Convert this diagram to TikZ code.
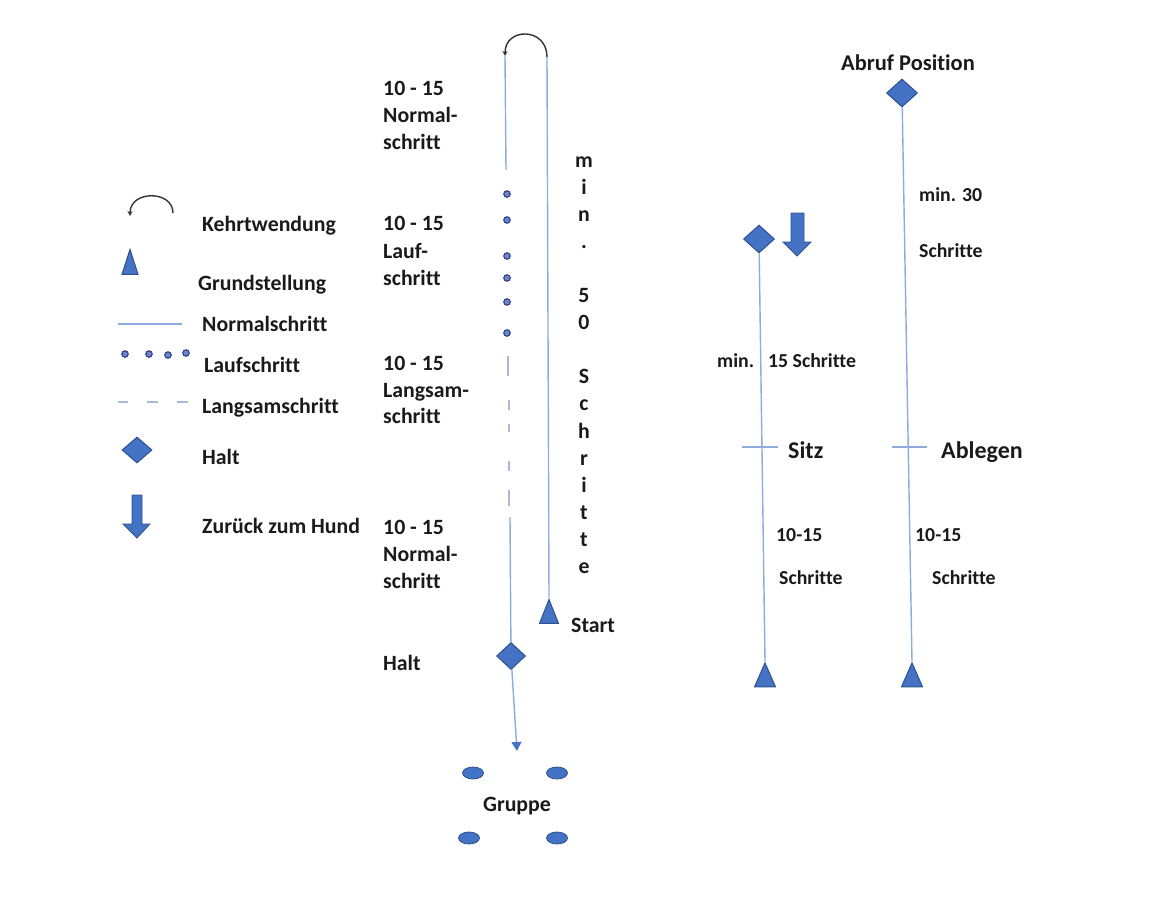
\documentclass[tikz,border=0pt]{standalone}
\usepackage{fontspec}
\setmainfont{Carlito}[Ligatures=NoCommon,Contextuals=NoAlternate]
\usetikzlibrary{shapes.geometric,arrows.meta}
\definecolor{fillblue}{HTML}{4472C4}
\definecolor{edgeblue}{HTML}{2F528F}
\definecolor{lineblue}{HTML}{8FAADC}
\definecolor{dashblue}{HTML}{A9B9D6}
\definecolor{dotedge}{HTML}{2F3E8F}
\definecolor{dotfill}{HTML}{6A86C8}
\definecolor{txt}{HTML}{1A1A1A}
\begin{document}
\begin{tikzpicture}[x=1pt,y=-1pt,
  lbl/.style={anchor=base west,inner sep=0,font=\fontsize{21.8}{22}\selectfont\bfseries,text=txt},
  lblsmall/.style={lbl,font=\fontsize{19.8}{20}\selectfont\bfseries},
  lblbig/.style={lbl,font=\fontsize{24}{24}\selectfont\bfseries},
  vlet/.style={anchor=base,inner sep=0,font=\fontsize{21.8}{22}\selectfont\bfseries,text=txt},
  haltbox/.style={diamond,fill=fillblue,draw=edgeblue,line width=1pt,inner sep=0,minimum width=31,minimum height=28},
  gstbox/.style={isosceles triangle,isosceles triangle stretches=true,shape border rotate=90,fill=fillblue,draw=edgeblue,line width=1pt,inner sep=0,minimum width=19,minimum height=24},
  walk/.style={draw=lineblue,line width=1.4pt},
  slow/.style={draw=dashblue,line width=1.4pt},
  rundot/.style={circle,draw=dotedge,fill=dotfill,line width=1.1pt,inner sep=0,minimum size=6.5},
  grp/.style={ellipse,fill=fillblue,draw=edgeblue,line width=0.8pt,inner sep=0,minimum width=21,minimum height=12},
  turn/.style={draw=black!80,line width=1.4pt,-{Stealth[length=5,width=5]}},
  back/.style={fill=fillblue,draw=edgeblue,line width=0.8pt}
]
\useasboundingbox (0,0) rectangle (1170,900);

% ---------------- Legend ----------------
\coordinate (lkA) at (173,213);
\coordinate (lkB) at (130,216);
\draw[turn] (lkA) .. controls (173,190) and (130,190) .. (lkB);
\node[lbl] (lKehr) at (202,231) {Kehrtwendung};

\node[gstbox,minimum width=16,minimum height=25] (lG) at (130,268.5) {};
\node[lbl] (lGrund) at (198,290) {Grundstellung};

\coordinate (lnA) at (118,324);
\coordinate (lnB) at (182,324);
\draw[walk,line width=1.1pt] (lnA) -- (lnB);
\node[lbl] (lNorm) at (202,331) {Normalschritt};

\node[rundot] (ld1) at (125,354) {};
\node[rundot] (ld2) at (149,354) {};
\node[rundot] (ld3) at (168,355) {};
\node[rundot] (ld4) at (186,353) {};
\node[lbl] (lLauf) at (204,372) {Laufschritt};

\coordinate (ls1a) at (118,402); \coordinate (ls1b) at (128,402);
\coordinate (ls2a) at (147,402); \coordinate (ls2b) at (158,402);
\coordinate (ls3a) at (177,402); \coordinate (ls3b) at (188,402);
\draw[slow,line width=1.1pt] (ls1a) -- (ls1b) (ls2a) -- (ls2b) (ls3a) -- (ls3b);
\node[lbl] (lLang) at (202,413) {Langsamschritt};

\node[haltbox,minimum width=30,minimum height=26] (lH) at (137,450) {};
\node[lbl] (lHalt) at (202,464) {Halt};

\draw[back] (132,495) -- (142,495) -- (142,524) -- (150,524) -- (137,538) -- (123,524) -- (132,524) -- cycle;
\node[lbl] (lZur) at (202,533) {Zurück zum Hund};

% ---------------- Middle course ----------------
\coordinate (arcL) at (505,56);
\coordinate (arcR) at (547,57);
\draw[turn] (arcR) .. controls (547,27) and (505,27) .. (arcL);
\coordinate (n1end) at (506,170);
\draw[walk] (arcL) -- (n1end);

\node[rundot] (d1) at (507,194) {};
\node[rundot] (d2) at (507,220) {};
\node[rundot] (d3) at (507,256) {};
\node[rundot] (d4) at (507,278) {};
\node[rundot] (d5) at (507,302) {};
\node[rundot] (d6) at (507,333) {};

\coordinate (s1a) at (508,356); \coordinate (s1b) at (508,376);
\coordinate (s2a) at (509,400); \coordinate (s2b) at (509,410);
\coordinate (s3a) at (509,424); \coordinate (s3b) at (509,432);
\coordinate (s4a) at (509,461); \coordinate (s4b) at (509,471);
\coordinate (s5a) at (509,490); \coordinate (s5b) at (509,506);
\draw[slow] (s1a) -- (s1b) (s2a) -- (s2b) (s3a) -- (s3b) (s4a) -- (s4b) (s5a) -- (s5b);

\coordinate (n2start) at (510,517);
\node[haltbox,minimum width=29,minimum height=27] (mH) at (511,656) {};
\draw[walk] (n2start) -- (mH);

\node[gstbox] (mStart) at (549,617) {};
\draw[walk] (arcR) -- (mStart.apex);

\coordinate (grpTip) at (517,751);
\draw[walk,-{Triangle[width=10,length=9,color=fillblue]}] (mH) -- (grpTip);

\node[grp] (g1) at (473,773) {};
\node[grp] (g2) at (557,773) {};
\node[grp] (g3) at (469,838) {};
\node[grp] (g4) at (557,838) {};
\node[lbl,anchor=base] (gTxt) at (517,811) {Gruppe};

% labels left of the course
\node[lbl] (a1) at (383,95) {10 - 15};
\node[lbl] (a2) at (383,122) {Normal-};
\node[lbl] (a3) at (383,149) {schritt};
\node[lbl] (b1) at (383,230) {10 - 15};
\node[lbl] (b2) at (383,258) {Lauf-};
\node[lbl] (b3) at (383,285) {schritt};
\node[lbl] (c1) at (383,370) {10 - 15};
\node[lbl] (c2) at (383,397) {Langsam-};
\node[lbl] (c3) at (383,423) {schritt};
\node[lbl] (e1) at (383,534) {10 - 15};
\node[lbl] (e2) at (383,561) {Normal-};
\node[lbl] (e3) at (383,588) {schritt};
\node[lbl] (hTxt) at (383,670) {Halt};
\node[lbl] (startTxt) at (571,632) {Start};

% vertical text
\foreach \ch/\k in {m/0,i/1,n/2,./3,5/5,0/6,S/8,c/9,h/10,r/11,i/12,t/13,t/14,e/15}{
  \node[vlet] (v\k) at (584,{167+27.1*\k}) {\ch};
}

% ---------------- Right part ----------------
\node[lbl,anchor=base,font=\fontsize{22.5}{22}\selectfont\bfseries] (abrufTxt) at (908,70) {Abruf Position};
\node[haltbox] (rH) at (902,93) {};
\node[gstbox,minimum width=21] (rG) at (912,680) {};
\draw[walk] (rH) -- (rG.apex);
\node[lblsmall] (min30) at (919,201) {min. 30};
\node[lblsmall] (schr30) at (919,257) {Schritte};

\node[haltbox] (sH) at (759,239) {};
\draw[back] (791,213) -- (804,213) -- (804,242) -- (811,242) -- (797,256) -- (783,242) -- (791,242) -- cycle;
\node[gstbox,minimum width=21] (sG) at (765,680) {};
\draw[walk] (sH) -- (sG.apex);
\node[lblsmall] (min15) at (717,367) {min.\hspace{14pt}15 Schritte};

\coordinate (tkLa) at (742,447); \coordinate (tkLb) at (778,447);
\coordinate (tkRa) at (892,447); \coordinate (tkRb) at (927,447);
\draw[walk,line width=1.1pt] (tkLa) -- (tkLb) (tkRa) -- (tkRb);
\node[lblbig] (sitz) at (788,458) {Sitz};
\node[lblbig] (ableg) at (941,458) {Ablegen};

\node[lblsmall] (s1015) at (776,541) {10-15};
\node[lblsmall] (sSchr) at (779,584) {Schritte};
\node[lblsmall] (a1015) at (915,541) {10-15};
\node[lblsmall] (aSchr) at (932,584) {Schritte};
\end{tikzpicture}
\end{document}
